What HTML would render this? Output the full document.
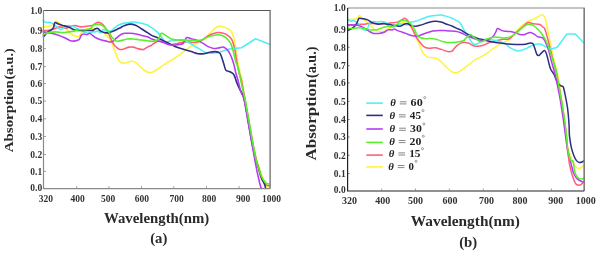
<!DOCTYPE html>
<html><head><meta charset="utf-8"><style>
html,body{margin:0;padding:0;background:#fff;}
body{width:600px;height:254px;overflow:hidden;}
svg{display:block;filter:blur(0.3px);}
</style></head><body>
<svg width="600" height="254" viewBox="0 0 600 254">
<rect width="600" height="254" fill="#fff"/>
<path d="M43.1 26.9 C44.0 26.8 46.8 26.5 48.5 26.2 C50.2 25.9 52.3 25.6 53.5 24.8 C54.7 24.0 54.9 21.7 55.6 21.2 C56.3 20.7 56.8 21.3 57.7 21.9 C58.7 22.5 60.0 23.7 61.3 24.8 C62.6 25.9 63.9 26.8 65.5 28.3 C67.2 29.8 69.5 32.7 71.2 34.0 C72.9 35.3 74.2 35.8 75.5 36.1 C76.8 36.5 78.1 36.6 79.0 36.1 C79.9 35.6 80.1 34.4 81.1 33.3 C82.1 32.2 83.1 30.2 84.9 29.5 C86.7 28.8 90.0 28.9 91.8 28.8 C93.6 28.7 94.5 28.6 95.9 28.8 C97.3 29.0 98.4 29.3 100.0 30.2 C101.6 31.1 103.9 32.8 105.5 34.3 C107.1 35.8 108.5 37.4 109.7 39.1 C110.9 40.8 111.4 42.3 112.4 44.6 C113.4 46.9 114.5 50.3 115.5 52.8 C116.5 55.3 117.3 58.1 118.4 59.8 C119.5 61.5 120.6 62.5 121.9 63.0 C123.2 63.5 124.5 63.0 126.2 62.7 C127.9 62.4 130.2 61.3 131.8 61.3 C133.5 61.3 134.7 61.8 136.1 62.7 C137.5 63.6 138.9 65.6 140.3 66.9 C141.7 68.2 143.2 69.5 144.6 70.5 C146.0 71.5 147.4 72.4 148.8 72.6 C150.2 72.8 151.4 72.6 153.1 71.9 C154.8 71.2 156.8 69.6 158.8 68.3 C160.8 67.0 162.9 65.5 165.0 64.1 C167.1 62.7 169.3 61.4 171.3 60.1 C173.3 58.9 175.1 57.9 177.0 56.6 C178.9 55.3 180.8 53.7 182.7 52.3 C184.6 50.9 186.5 49.4 188.4 48.1 C190.3 46.8 192.1 45.6 194.0 44.5 C195.9 43.4 197.9 42.8 199.7 41.7 C201.5 40.7 203.2 39.7 205.0 38.2 C206.8 36.7 208.8 34.3 210.7 32.5 C212.6 30.7 214.5 28.4 216.3 27.3 C218.1 26.2 219.7 26.1 221.3 26.2 C222.9 26.3 224.3 27.1 225.9 27.9 C227.5 28.7 229.5 29.3 230.8 30.9 C232.1 32.5 233.0 34.9 233.8 37.7 C234.6 40.5 235.0 43.7 235.7 47.6 C236.3 51.5 237.0 57.3 237.7 61.4 C238.4 65.5 239.1 68.8 239.8 72.0 C240.5 75.2 241.4 76.9 242.1 80.6 C242.8 84.3 243.6 91.2 244.1 94.4 C244.6 97.6 244.3 95.7 245.1 100.0 C245.9 104.3 247.5 113.3 248.7 120.0 C249.9 126.7 251.0 133.7 252.2 140.0 C253.4 146.3 254.7 153.5 255.8 158.0 C256.9 162.5 258.1 164.2 259.0 167.0 C259.9 169.8 260.6 172.5 261.5 175.0 C262.4 177.5 263.5 180.1 264.4 182.0 C265.3 183.9 266.0 185.5 266.9 186.3 C267.8 187.2 269.2 187.0 269.7 187.1" stroke="#fff43c" stroke-width="1.6" fill="none" stroke-linejoin="round" stroke-linecap="round"/>
<path d="M43.1 30.4 C44.0 30.4 46.6 30.6 48.5 30.4 C50.4 30.2 52.3 29.6 54.2 29.0 C56.1 28.4 58.0 27.0 59.9 26.9 C61.8 26.8 63.6 28.4 65.5 28.3 C67.4 28.2 69.5 26.7 71.2 26.2 C72.9 25.7 73.8 25.4 75.5 25.5 C77.2 25.6 79.2 26.8 81.1 26.9 C83.0 27.0 84.9 26.4 86.8 26.2 C88.7 26.0 91.0 26.0 92.5 25.5 C94.0 25.0 94.6 23.9 95.5 23.3 C96.4 22.8 96.8 22.2 97.8 22.2 C98.8 22.2 100.3 22.6 101.4 23.3 C102.5 24.0 103.1 24.8 104.2 26.2 C105.3 27.6 106.7 29.9 107.8 31.9 C108.9 33.9 109.8 36.4 110.6 38.2 C111.4 40.0 112.0 41.2 112.7 42.5 C113.4 43.8 113.7 44.6 114.8 45.7 C115.9 46.8 117.7 48.6 119.1 49.2 C120.5 49.8 121.6 49.6 123.3 49.2 C125.0 48.9 127.3 47.5 129.0 47.1 C130.7 46.8 131.9 46.9 133.3 47.1 C134.7 47.3 135.8 48.1 137.5 48.5 C139.2 48.9 141.5 49.8 143.2 49.6 C144.8 49.4 146.3 47.7 147.4 47.1 C148.5 46.5 148.8 46.6 150.0 46.0 C151.2 45.4 152.9 44.0 154.3 43.2 C155.7 42.4 156.8 41.2 158.5 41.1 C160.2 41.0 162.3 41.9 164.2 42.5 C166.1 43.1 168.0 44.4 169.9 44.6 C171.8 44.8 173.6 44.2 175.5 43.9 C177.4 43.5 179.3 42.9 181.2 42.5 C183.1 42.1 185.0 41.8 186.9 41.8 C188.8 41.8 190.7 42.5 192.6 42.5 C194.5 42.5 196.3 42.4 198.2 41.8 C200.1 41.2 202.3 40.0 203.9 39.0 C205.5 38.0 206.6 36.8 208.0 36.0 C209.4 35.2 210.5 34.6 212.1 34.0 C213.7 33.4 215.9 32.6 217.8 32.5 C219.7 32.4 221.8 32.8 223.4 33.3 C225.1 33.8 226.3 34.3 227.7 35.4 C229.1 36.5 230.6 37.3 231.8 39.7 C233.0 42.1 234.0 46.0 234.8 49.6 C235.6 53.2 236.0 57.7 236.7 61.4 C237.4 65.1 238.1 68.8 238.9 72.0 C239.7 75.2 240.7 76.9 241.5 80.6 C242.3 84.3 243.3 91.2 243.9 94.4 C244.5 97.6 244.2 95.7 245.0 100.0 C245.8 104.3 247.4 113.3 248.6 120.0 C249.8 126.7 250.9 133.6 252.1 140.0 C253.3 146.4 254.9 153.8 256.0 158.5 C257.1 163.2 257.7 165.0 258.5 168.0 C259.3 171.0 259.6 173.8 260.6 176.4 C261.6 179.0 263.3 181.8 264.4 183.3 C265.4 184.8 266.1 184.8 266.9 185.2 C267.7 185.6 269.0 185.8 269.4 185.9" stroke="#ff5f7c" stroke-width="1.6" fill="none" stroke-linejoin="round" stroke-linecap="round"/>
<path d="M43.1 20.5 C43.6 20.9 45.3 22.3 46.4 22.6 C47.5 22.9 48.7 21.9 49.9 22.2 C51.1 22.4 52.2 23.2 53.5 24.1 C54.8 25.0 56.5 26.5 57.7 27.4 C58.9 28.3 59.7 29.5 60.7 29.6 C61.7 29.7 62.7 28.6 63.5 28.0 C64.3 27.4 64.7 26.6 65.5 26.2 C66.3 25.8 67.2 25.5 68.4 25.5 C69.6 25.5 71.2 25.7 72.6 26.2 C74.0 26.7 75.5 27.6 76.9 28.3 C78.3 29.0 79.7 29.7 81.1 30.4 C82.5 31.1 84.1 32.1 85.4 32.6 C86.7 33.1 87.7 33.4 88.9 33.3 C90.1 33.2 91.5 32.1 92.5 31.9 C93.5 31.7 94.1 32.0 95.0 31.9 C95.9 31.8 96.8 30.9 97.8 31.1 C98.8 31.3 99.9 33.2 100.7 33.0 C101.5 32.8 101.9 30.1 102.8 29.7 C103.7 29.3 105.0 30.2 106.3 30.4 C107.6 30.6 109.2 31.6 110.6 31.1 C112.0 30.6 113.5 28.7 114.9 27.6 C116.3 26.6 117.4 25.6 119.1 24.8 C120.8 24.1 122.9 23.5 124.8 23.1 C126.7 22.7 128.6 22.4 130.5 22.2 C132.4 22.0 134.2 22.0 136.1 22.2 C138.0 22.4 139.9 22.8 141.8 23.3 C143.7 23.8 146.1 24.4 147.5 25.0 C148.9 25.6 149.1 26.3 150.0 26.9 C150.9 27.4 151.6 27.5 152.8 28.3 C154.0 29.1 155.7 30.5 157.1 31.9 C158.5 33.3 159.9 35.1 161.3 36.8 C162.7 38.4 164.2 41.1 165.6 41.8 C167.0 42.5 168.2 41.4 169.9 41.1 C171.6 40.8 173.6 40.3 175.5 40.1 C177.4 39.9 179.5 39.5 181.2 39.7 C182.9 39.9 183.8 40.4 185.5 41.1 C187.2 41.8 189.4 43.0 191.1 43.9 C192.8 44.8 194.2 46.1 195.4 46.8 C196.6 47.5 197.1 47.4 198.3 48.1 C199.5 48.8 201.2 50.1 202.6 50.9 C204.0 51.7 204.9 52.6 206.8 53.0 C208.7 53.4 211.5 53.2 213.9 53.0 C216.3 52.8 219.0 52.1 221.0 51.6 C223.0 51.1 224.7 50.4 226.0 50.0 C227.3 49.6 228.5 49.2 229.0 49.0 L229.0 49.0 C231.1 48.8 239.4 47.9 241.5 47.7 L241.5 47.7 C243.8 46.2 253.2 40.3 255.5 38.8 L255.5 38.8 C257.8 39.7 267.2 43.3 269.5 44.2" stroke="#4ff0f4" stroke-width="1.6" fill="none" stroke-linejoin="round" stroke-linecap="round"/>
<path d="M43.5 36.8 C44.1 36.1 45.9 33.7 47.1 32.6 C48.3 31.5 49.5 31.2 50.6 30.4 C51.7 29.6 52.8 28.9 53.5 27.6 C54.2 26.3 54.1 23.2 54.9 22.6 C55.7 22.0 57.1 23.6 58.4 24.1 C59.7 24.6 61.4 25.1 62.7 25.5 C64.0 25.9 65.0 25.8 66.2 26.2 C67.4 26.6 68.5 27.0 69.8 27.6 C71.1 28.2 72.6 29.2 74.0 29.7 C75.4 30.2 76.9 30.3 78.3 30.4 C79.7 30.5 80.9 30.4 82.6 30.4 C84.2 30.4 86.5 30.4 88.2 30.4 C89.9 30.4 91.4 30.6 92.5 30.4 C93.6 30.2 94.2 29.4 95.0 29.0 C95.8 28.6 96.5 28.3 97.1 28.3 C97.7 28.3 97.9 28.5 98.5 29.0 C99.1 29.5 99.6 30.5 100.7 31.1 C101.8 31.7 103.5 32.4 104.9 32.6 C106.3 32.9 107.8 32.9 109.2 32.6 C110.6 32.4 111.8 31.8 113.4 31.1 C115.1 30.4 117.2 29.2 119.1 28.3 C121.0 27.4 122.9 26.2 124.8 25.5 C126.7 24.8 128.6 24.1 130.5 24.1 C132.4 24.1 134.2 24.7 136.1 25.5 C138.0 26.3 139.9 27.8 141.8 29.0 C143.7 30.2 145.8 31.5 147.5 32.6 C149.2 33.7 150.4 34.7 151.7 35.4 C152.9 36.1 153.9 36.3 155.0 36.8 C156.1 37.3 157.0 37.5 158.5 38.2 C160.0 38.9 162.3 40.2 164.2 41.1 C166.1 42.0 167.8 42.9 169.9 43.9 C172.0 44.9 174.6 46.4 177.0 47.3 C179.4 48.2 181.7 48.8 184.1 49.5 C186.5 50.2 188.8 50.9 191.2 51.6 C193.6 52.3 196.2 53.4 198.3 53.7 C200.4 54.1 202.1 53.9 204.0 53.7 C205.9 53.5 207.7 52.6 209.6 52.3 C211.5 51.9 213.6 51.5 215.3 51.6 C217.0 51.7 218.5 52.0 219.6 53.0 C220.7 54.0 221.0 55.4 221.7 57.3 C222.4 59.2 223.2 62.1 223.9 64.3 C224.6 66.5 224.9 69.0 225.9 70.2 C226.9 71.4 228.6 71.0 229.9 71.7 C231.2 72.5 232.8 72.9 233.9 74.7 C235.1 76.5 235.8 80.1 236.8 82.6 C237.8 85.0 238.8 87.4 239.8 89.4 C240.8 91.4 241.9 92.6 242.7 94.4 C243.5 96.2 243.5 95.7 244.4 100.0 C245.3 104.3 246.8 113.3 248.0 120.0 C249.2 126.7 250.3 133.7 251.5 140.0 C252.7 146.3 254.2 153.8 255.2 158.0 C256.2 162.2 256.7 162.7 257.5 165.0 C258.3 167.3 259.1 169.7 259.8 172.0 C260.5 174.3 261.1 176.9 261.9 178.9 C262.7 180.9 263.8 182.4 264.4 184.0 C265.0 185.6 265.5 187.7 265.7 188.4" stroke="#2e2e82" stroke-width="1.6" fill="none" stroke-linejoin="round" stroke-linecap="round"/>
<path d="M43.1 31.9 C43.8 32.0 45.7 32.4 47.1 32.6 C48.5 32.8 49.6 32.9 51.3 33.3 C52.9 33.6 54.9 34.0 57.0 34.7 C59.1 35.4 62.0 36.5 64.1 37.5 C66.2 38.5 68.1 39.8 69.8 40.4 C71.5 41.0 72.5 41.2 74.0 41.1 C75.5 41.0 77.8 40.7 79.0 39.7 C80.2 38.8 80.3 36.4 81.1 35.4 C81.9 34.4 83.0 34.1 84.0 34.0 C85.0 33.9 85.9 34.8 86.8 34.7 C87.7 34.6 88.6 33.2 89.6 33.3 C90.5 33.4 91.5 34.7 92.5 35.4 C93.5 36.1 93.9 36.8 95.3 37.5 C96.7 38.2 98.9 39.1 100.7 39.7 C102.5 40.3 104.4 40.8 106.3 41.1 C108.2 41.5 110.3 42.3 112.0 41.8 C113.7 41.3 114.9 39.4 116.3 38.2 C117.7 37.0 119.1 35.5 120.5 34.7 C121.9 33.9 123.1 33.5 124.8 33.3 C126.5 33.1 128.6 33.2 130.5 33.3 C132.4 33.4 134.2 33.6 136.1 34.0 C138.0 34.4 139.9 34.9 141.8 35.4 C143.7 35.9 145.8 36.2 147.5 36.8 C149.2 37.4 150.3 38.4 151.7 39.0 C153.1 39.6 154.1 39.9 155.7 40.4 C157.3 40.9 159.4 41.2 161.3 41.8 C163.2 42.4 165.1 43.3 167.0 43.9 C168.9 44.5 170.8 45.2 172.7 45.3 C174.6 45.4 176.7 44.9 178.4 44.6 C180.1 44.4 181.7 44.4 182.7 43.8 C183.7 43.2 183.8 42.0 184.5 41.0 C185.2 40.0 185.8 37.9 186.9 37.5 C188.0 37.1 189.5 38.3 191.2 38.8 C192.9 39.3 195.0 39.6 196.9 40.3 C198.8 41.0 200.7 42.0 202.6 43.1 C204.5 44.2 206.3 45.7 208.2 46.6 C210.1 47.5 211.9 48.3 213.9 48.5 C215.9 48.7 218.3 47.8 220.0 47.6 C221.7 47.4 222.6 46.7 223.9 47.2 C225.2 47.7 226.8 49.2 227.9 50.5 C229.0 51.8 229.7 53.4 230.5 55.0 C231.3 56.6 231.9 58.2 232.5 60.0 C233.1 61.8 233.8 64.0 234.3 66.0 C234.8 68.0 235.0 69.7 235.6 72.0 C236.2 74.3 237.0 76.7 237.9 80.0 C238.8 83.3 239.9 88.7 241.0 92.0 C242.1 95.3 243.1 95.3 244.2 100.0 C245.3 104.7 246.6 113.3 247.8 120.0 C249.0 126.7 250.1 133.3 251.3 140.0 C252.5 146.7 254.0 155.0 254.9 160.0 C255.8 165.0 256.2 166.9 256.8 170.1 C257.4 173.2 258.1 176.2 258.7 178.9 C259.3 181.6 260.1 184.9 260.6 186.5 C261.1 188.1 261.4 188.2 261.6 188.5" stroke="#b43cf2" stroke-width="1.6" fill="none" stroke-linejoin="round" stroke-linecap="round"/>
<path d="M43.1 34.7 C44.0 34.4 46.4 33.1 48.5 32.6 C50.6 32.1 53.2 31.9 55.6 31.9 C58.0 31.9 60.6 32.6 62.7 32.6 C64.8 32.6 66.5 32.1 68.4 31.9 C70.3 31.6 72.1 31.5 74.0 31.1 C75.9 30.7 77.8 29.9 79.7 29.7 C81.6 29.5 83.5 29.9 85.4 29.7 C87.3 29.5 89.8 29.1 91.1 28.3 C92.4 27.5 92.3 25.5 93.2 24.8 C94.1 24.1 95.5 24.1 96.7 24.1 C98.0 24.1 99.3 24.2 100.7 24.8 C102.1 25.4 103.5 26.3 104.9 27.6 C106.3 28.9 107.9 30.8 109.2 32.6 C110.5 34.4 111.5 36.8 112.7 38.2 C113.9 39.6 114.8 40.7 116.3 41.1 C117.8 41.5 120.1 40.8 122.0 40.4 C123.9 40.0 125.7 39.2 127.6 39.0 C129.5 38.8 131.4 38.9 133.3 39.0 C135.2 39.1 137.1 39.5 139.0 39.7 C140.9 39.9 142.7 40.2 144.6 40.4 C146.5 40.6 148.7 41.0 150.3 41.1 C151.9 41.2 152.9 41.5 154.3 41.1 C155.7 40.8 157.3 40.3 158.5 39.0 C159.7 37.7 160.1 33.9 161.3 33.3 C162.5 32.7 163.9 34.4 165.6 35.4 C167.3 36.4 169.2 38.2 171.3 39.0 C173.4 39.8 176.0 39.9 178.4 40.1 C180.8 40.3 183.1 40.1 185.5 40.1 C187.9 40.1 190.2 40.4 192.6 40.4 C194.9 40.4 197.5 40.8 199.6 40.4 C201.7 40.0 203.5 38.9 205.3 38.2 C207.2 37.5 208.6 36.7 210.7 36.1 C212.8 35.5 215.9 34.8 217.8 34.7 C219.7 34.6 220.7 34.9 222.0 35.4 C223.3 35.9 224.4 36.3 225.9 37.7 C227.4 39.1 229.5 41.1 230.8 43.7 C232.1 46.3 233.0 50.5 233.8 53.5 C234.6 56.5 235.1 59.8 235.8 62.0 C236.5 64.2 237.0 63.7 237.8 66.8 C238.6 69.9 239.8 76.0 240.8 80.6 C241.8 85.2 243.2 91.2 243.9 94.4 C244.6 97.6 244.4 95.7 245.2 100.0 C246.0 104.3 247.6 113.3 248.8 120.0 C250.0 126.7 251.1 133.3 252.3 140.0 C253.5 146.7 255.2 155.6 256.2 160.0 C257.2 164.4 257.4 164.0 258.1 166.3 C258.8 168.6 259.8 171.7 260.6 173.9 C261.4 176.1 262.2 177.9 263.1 179.5 C264.1 181.1 265.2 182.6 266.3 183.3 C267.4 184.1 269.1 183.9 269.7 184.0" stroke="#58f02a" stroke-width="1.6" fill="none" stroke-linejoin="round" stroke-linecap="round"/>
<path d="M43.5 10.5 H270.2 V188.6" stroke="#555" stroke-width="1.2" fill="none"/>
<path d="M43.5 10.5 V188.6 H270.2" stroke="#8a8a8a" stroke-width="1.2" fill="none"/>
<path d="M270.2 10.5 V188.6" stroke="#999" stroke-width="1.2" fill="none"/>
<text x="42.2" y="14.1" font-size="9.5" text-anchor="end" fill="#333" font-family="Liberation Serif" font-weight="bold">1.0</text>
<text x="42.2" y="34.2" font-size="9.5" text-anchor="end" fill="#333" font-family="Liberation Serif" font-weight="bold">0.9</text>
<path d="M43.5 31.0 h2.5" stroke="#888" stroke-width="0.8"/>
<text x="42.2" y="51.8" font-size="9.5" text-anchor="end" fill="#333" font-family="Liberation Serif" font-weight="bold">0.8</text>
<path d="M43.5 48.6 h2.5" stroke="#888" stroke-width="0.8"/>
<text x="42.2" y="69.8" font-size="9.5" text-anchor="end" fill="#333" font-family="Liberation Serif" font-weight="bold">0.7</text>
<path d="M43.5 66.6 h2.5" stroke="#888" stroke-width="0.8"/>
<text x="42.2" y="86.7" font-size="9.5" text-anchor="end" fill="#333" font-family="Liberation Serif" font-weight="bold">0.6</text>
<path d="M43.5 83.5 h2.5" stroke="#888" stroke-width="0.8"/>
<text x="42.2" y="104.3" font-size="9.5" text-anchor="end" fill="#333" font-family="Liberation Serif" font-weight="bold">0.5</text>
<path d="M43.5 101.1 h2.5" stroke="#888" stroke-width="0.8"/>
<text x="42.2" y="122.0" font-size="9.5" text-anchor="end" fill="#333" font-family="Liberation Serif" font-weight="bold">0.4</text>
<path d="M43.5 118.8 h2.5" stroke="#888" stroke-width="0.8"/>
<text x="42.2" y="139.7" font-size="9.5" text-anchor="end" fill="#333" font-family="Liberation Serif" font-weight="bold">0.3</text>
<path d="M43.5 136.5 h2.5" stroke="#888" stroke-width="0.8"/>
<text x="42.2" y="157.7" font-size="9.5" text-anchor="end" fill="#333" font-family="Liberation Serif" font-weight="bold">0.2</text>
<path d="M43.5 154.5 h2.5" stroke="#888" stroke-width="0.8"/>
<text x="42.2" y="174.6" font-size="9.5" text-anchor="end" fill="#333" font-family="Liberation Serif" font-weight="bold">0.1</text>
<path d="M43.5 171.4 h2.5" stroke="#888" stroke-width="0.8"/>
<text x="42.2" y="190.5" font-size="9.5" text-anchor="end" fill="#333" font-family="Liberation Serif" font-weight="bold">0.0</text>
<text x="45.9" y="201.8" font-size="9.5" text-anchor="middle" fill="#333" font-family="Liberation Serif" font-weight="bold">320</text>
<text x="77.5" y="201.8" font-size="9.5" text-anchor="middle" fill="#333" font-family="Liberation Serif" font-weight="bold">400</text>
<path d="M76.7 188.6 v-2.5" stroke="#888" stroke-width="0.8"/>
<text x="108.2" y="201.8" font-size="9.5" text-anchor="middle" fill="#333" font-family="Liberation Serif" font-weight="bold">500</text>
<path d="M108.9 188.6 v-2.5" stroke="#888" stroke-width="0.8"/>
<text x="141.8" y="201.8" font-size="9.5" text-anchor="middle" fill="#333" font-family="Liberation Serif" font-weight="bold">600</text>
<path d="M141.5 188.6 v-2.5" stroke="#888" stroke-width="0.8"/>
<text x="176.6" y="201.8" font-size="9.5" text-anchor="middle" fill="#333" font-family="Liberation Serif" font-weight="bold">700</text>
<path d="M173.8 188.6 v-2.5" stroke="#888" stroke-width="0.8"/>
<text x="209.0" y="201.8" font-size="9.5" text-anchor="middle" fill="#333" font-family="Liberation Serif" font-weight="bold">800</text>
<path d="M206.5 188.6 v-2.5" stroke="#888" stroke-width="0.8"/>
<text x="243.0" y="201.8" font-size="9.5" text-anchor="middle" fill="#333" font-family="Liberation Serif" font-weight="bold">900</text>
<path d="M239.1 188.6 v-2.5" stroke="#888" stroke-width="0.8"/>
<text x="271.6" y="201.8" font-size="9.5" text-anchor="middle" fill="#333" font-family="Liberation Serif" font-weight="bold">1000</text>
<text transform="translate(13.0,152.2) rotate(-90)" font-size="13.2" fill="#2a2a2a" textLength="72" lengthAdjust="spacingAndGlyphs" font-family="Liberation Serif" font-weight="bold">Absorption</text>
<text transform="translate(13.0,79.6) rotate(-90)" font-size="13.2" fill="#2a2a2a" textLength="31.2" lengthAdjust="spacingAndGlyphs" font-family="Liberation Serif" font-weight="bold">(a.u.)</text>
<text x="104" y="223" font-size="14" fill="#2a2a2a" textLength="105.2" lengthAdjust="spacingAndGlyphs" font-family="Liberation Serif" font-weight="bold">Wavelength(nm)</text>
<text x="150.2" y="243.1" font-size="14.2" fill="#2a2a2a" textLength="17.2" lengthAdjust="spacingAndGlyphs" font-family="Liberation Serif" font-weight="bold">(a)</text>
<path d="M347.8 19.9 C348.8 19.8 351.9 19.4 353.5 19.2 C355.1 19.0 356.2 19.1 357.1 18.5 C358.1 17.9 358.6 16.1 359.2 15.7 C359.8 15.3 359.9 15.8 360.6 16.4 C361.3 17.0 362.2 18.1 363.4 19.2 C364.6 20.3 366.3 21.5 367.7 22.8 C369.1 24.1 370.8 25.8 372.0 27.0 C373.2 28.2 373.6 29.2 374.8 29.9 C376.0 30.6 377.6 30.9 379.0 31.3 C380.4 31.7 382.1 32.2 383.3 32.0 C384.5 31.8 384.9 30.6 386.1 29.9 C387.3 29.2 389.0 28.3 390.4 27.7 C391.8 27.1 393.2 26.9 394.6 26.3 C396.0 25.7 397.7 24.8 398.9 24.2 C400.1 23.6 400.9 22.6 402.0 22.5 C403.1 22.4 404.1 22.8 405.7 23.5 C407.2 24.2 409.9 25.5 411.3 27.0 C412.7 28.5 413.4 30.8 414.2 32.7 C415.0 34.6 415.5 36.5 416.3 38.4 C417.1 40.3 418.2 41.7 419.2 43.9 C420.2 46.1 421.0 49.6 422.3 51.8 C423.6 53.9 425.2 55.8 427.1 56.8 C429.0 57.8 431.6 57.4 433.4 57.8 C435.2 58.2 436.5 58.3 438.1 59.3 C439.7 60.3 441.3 62.1 442.9 63.6 C444.5 65.1 446.0 66.9 447.6 68.3 C449.2 69.7 450.7 71.3 452.3 72.0 C453.9 72.7 455.5 72.9 457.1 72.6 C458.7 72.2 460.0 71.1 461.8 69.9 C463.6 68.7 465.9 66.9 468.1 65.2 C470.3 63.5 472.8 61.3 475.0 59.9 C477.2 58.5 479.2 58.0 481.3 56.8 C483.4 55.6 485.5 54.2 487.6 52.8 C489.7 51.3 491.8 49.5 493.9 48.1 C496.0 46.7 498.1 45.4 500.2 44.2 C502.3 43.0 504.9 41.9 506.5 41.0 C508.1 40.1 508.3 40.2 510.0 38.6 C511.7 37.0 514.4 33.5 516.6 31.1 C518.8 28.8 521.3 26.1 523.2 24.5 C525.1 22.9 526.3 22.2 528.2 21.2 C530.1 20.2 532.6 19.8 534.8 18.7 C537.0 17.6 539.8 15.2 541.4 14.9 C543.0 14.6 543.8 15.4 544.7 17.1 C545.6 18.8 546.0 22.1 546.7 25.0 C547.4 27.9 548.0 31.5 548.7 34.8 C549.4 38.1 549.9 40.8 550.7 44.7 C551.5 48.7 552.6 54.2 553.6 58.5 C554.6 62.8 555.9 66.4 556.8 70.3 C557.7 74.2 558.4 77.5 559.2 82.0 C560.0 86.5 560.7 92.3 561.4 97.0 C562.1 101.7 562.7 106.2 563.2 110.0 C563.7 113.8 564.1 115.8 564.6 120.0 C565.1 124.2 565.9 130.3 566.4 135.0 C566.9 139.7 567.1 144.6 567.8 148.0 C568.5 151.4 569.5 152.9 570.4 155.3 C571.3 157.7 572.1 160.5 573.0 162.4 C573.9 164.3 574.7 165.8 575.7 166.8 C576.7 167.8 578.2 168.6 579.2 168.6 C580.2 168.6 581.1 167.4 581.9 166.8 C582.7 166.2 583.6 165.3 584.0 165.0" stroke="#fff43c" stroke-width="1.5" fill="none" stroke-linejoin="round" stroke-linecap="round"/>
<path d="M347.8 25.6 C348.8 25.5 351.6 25.1 353.5 24.9 C355.4 24.7 357.3 24.3 359.2 24.2 C361.1 24.1 363.2 24.3 364.9 24.2 C366.5 24.1 367.5 23.6 369.1 23.5 C370.8 23.4 372.9 23.4 374.8 23.5 C376.7 23.6 378.6 24.2 380.5 24.2 C382.4 24.2 384.2 23.7 386.1 23.5 C388.0 23.3 389.9 23.0 391.8 22.8 C393.7 22.6 395.9 22.6 397.5 22.1 C399.1 21.6 400.6 20.5 401.7 19.9 C402.8 19.3 403.4 18.7 404.0 18.5 C404.6 18.3 404.9 18.1 405.5 18.5 C406.1 18.9 406.9 19.4 407.8 20.6 C408.7 21.8 409.7 23.8 410.6 25.6 C411.6 27.4 412.6 29.4 413.5 31.3 C414.4 33.2 415.2 35.2 416.3 37.0 C417.4 38.8 418.7 40.7 420.0 42.3 C421.3 43.9 422.4 45.7 423.9 46.7 C425.3 47.7 426.8 48.1 428.7 48.3 C430.6 48.5 432.9 47.6 435.0 47.8 C437.1 48.0 439.2 48.8 441.3 49.4 C443.4 50.0 445.8 51.2 447.6 51.5 C449.4 51.8 451.3 51.4 452.3 51.0 C453.3 50.6 452.9 50.0 453.8 49.0 C454.7 48.0 456.4 46.2 457.6 45.2 C458.9 44.2 460.1 43.4 461.3 42.9 C462.6 42.4 463.8 42.3 465.1 42.4 C466.4 42.5 467.5 42.8 468.9 43.3 C470.3 43.8 472.0 45.2 473.6 45.7 C475.2 46.2 476.8 46.3 478.4 46.2 C480.0 46.1 481.5 45.7 483.1 45.2 C484.7 44.7 486.4 43.8 487.8 43.3 C489.2 42.8 490.4 42.3 491.6 41.9 C492.8 41.5 493.3 41.4 495.0 41.0 C496.7 40.6 499.4 39.8 501.8 39.4 C504.2 39.0 507.1 39.9 509.6 38.7 C512.1 37.5 514.3 34.1 516.6 32.0 C518.9 29.9 521.3 27.8 523.2 26.2 C525.1 24.6 526.6 22.9 528.2 22.5 C529.9 22.1 531.2 23.4 533.1 23.7 C535.0 24.0 538.2 23.9 539.8 24.5 C541.4 25.1 542.0 26.3 542.8 27.0 C543.6 27.7 544.0 26.9 544.8 28.9 C545.6 30.9 546.7 35.2 547.7 38.8 C548.7 42.4 549.7 46.7 550.7 50.6 C551.7 54.5 552.6 58.3 553.6 62.4 C554.6 66.5 555.9 70.7 556.8 75.0 C557.7 79.3 558.5 83.8 559.2 88.0 C560.0 92.2 560.4 94.7 561.3 100.0 C562.1 105.3 563.5 114.2 564.3 120.0 C565.1 125.8 565.8 130.0 566.3 135.0 C566.8 140.0 567.0 146.2 567.4 150.0 C567.8 153.8 568.2 155.6 568.6 158.0 C569.0 160.4 568.9 161.4 569.5 164.2 C570.1 167.0 571.2 171.9 572.1 174.8 C573.0 177.8 574.1 180.3 574.8 181.9 C575.5 183.5 575.6 184.0 576.5 184.5 C577.4 185.0 579.2 185.2 580.1 185.0 C581.0 184.8 581.2 184.2 581.9 183.6 C582.5 183.0 583.6 181.8 584.0 181.5" stroke="#ff5f7c" stroke-width="1.5" fill="none" stroke-linejoin="round" stroke-linecap="round"/>
<path d="M347.8 19.2 C348.3 19.6 349.8 21.1 350.7 21.3 C351.6 21.5 352.6 20.5 353.5 20.6 C354.4 20.7 355.4 21.4 356.3 22.1 C357.2 22.8 358.2 23.8 359.2 24.9 C360.2 26.0 361.4 27.9 362.3 28.8 C363.2 29.7 363.8 29.9 364.5 30.1 C365.2 30.3 366.1 30.8 366.8 30.1 C367.5 29.4 368.0 27.2 368.5 26.0 C369.0 24.8 369.1 23.4 370.0 22.6 C370.9 21.8 372.4 21.5 373.6 21.4 C374.9 21.3 376.2 21.9 377.5 21.9 C378.8 21.9 380.2 21.3 381.5 21.4 C382.8 21.4 384.1 21.4 385.4 22.2 C386.6 23.0 387.7 25.5 389.0 26.3 C390.3 27.1 391.8 27.2 393.2 27.0 C394.6 26.8 396.2 25.4 397.5 24.9 C398.8 24.4 399.9 24.1 401.0 24.0 C402.1 23.9 403.3 24.1 404.3 24.2 C405.3 24.3 406.1 25.2 407.1 24.9 C408.2 24.5 409.2 22.7 410.6 22.1 C412.0 21.5 413.8 21.8 415.6 21.3 C417.4 20.8 419.2 20.0 421.3 19.2 C423.4 18.4 426.0 17.0 428.4 16.4 C430.8 15.8 433.4 15.6 435.5 15.4 C437.6 15.2 439.2 14.8 441.1 15.0 C443.0 15.2 444.9 15.8 446.8 16.4 C448.7 17.0 450.9 17.8 452.5 18.5 C454.1 19.2 455.4 19.9 456.7 20.6 C457.9 21.3 458.9 21.4 460.0 22.8 C461.1 24.2 462.3 27.1 463.5 29.1 C464.7 31.1 465.9 32.9 467.1 34.8 C468.3 36.7 469.6 39.0 470.6 40.5 C471.7 42.0 472.3 43.4 473.4 44.0 C474.5 44.6 475.8 44.4 477.0 44.0 C478.2 43.6 479.3 42.7 480.5 41.9 C481.7 41.1 482.7 39.8 484.4 39.4 C486.1 39.0 488.3 39.5 490.7 39.8 C493.1 40.1 496.2 40.7 498.6 41.3 C501.0 41.9 503.1 42.4 504.9 43.4 C506.7 44.4 507.8 46.1 509.6 47.3 C511.4 48.5 514.0 50.0 515.9 50.5 C517.8 51.0 518.9 50.9 520.7 50.5 C522.6 50.1 524.9 49.0 527.0 48.1 C529.1 47.2 531.2 45.7 533.3 45.0 C535.4 44.3 537.5 43.7 539.6 44.0 C541.7 44.3 544.0 45.9 545.7 46.7 C547.4 47.5 548.5 48.3 549.7 48.6 C550.9 48.9 551.7 48.8 553.0 48.5 C554.3 48.2 556.8 47.2 557.5 47.0 L557.5 47.0 C559.0 44.8 565.2 36.2 566.8 34.0 L566.8 34.0 C568.2 34.0 573.9 34.0 575.3 34.0 L575.3 34.0 C576.7 35.5 582.2 41.2 583.6 42.7" stroke="#4ff0f4" stroke-width="1.5" fill="none" stroke-linejoin="round" stroke-linecap="round"/>
<path d="M347.8 30.6 C348.5 30.2 350.7 29.5 352.1 28.4 C353.5 27.3 355.2 25.7 356.3 24.2 C357.4 22.7 358.0 20.2 358.5 19.2 C359.0 18.2 358.7 18.3 359.5 18.2 C360.3 18.1 362.0 18.5 363.4 18.8 C364.8 19.1 366.4 19.3 367.7 19.9 C369.0 20.4 370.0 21.5 371.2 22.1 C372.4 22.7 373.5 23.1 374.8 23.5 C376.1 23.9 377.6 24.2 379.0 24.2 C380.4 24.2 381.9 23.5 383.3 23.5 C384.7 23.5 386.2 24.0 387.6 24.2 C389.0 24.4 390.4 24.7 391.8 24.9 C393.2 25.1 394.7 25.4 396.1 25.6 C397.5 25.8 398.9 26.5 400.3 26.3 C401.7 26.1 403.2 24.7 404.3 24.2 C405.4 23.7 405.9 23.3 407.1 23.5 C408.3 23.7 409.9 25.1 411.3 25.6 C412.7 26.1 413.9 26.4 415.6 26.3 C417.3 26.2 419.2 25.5 421.3 24.9 C423.4 24.3 426.0 23.1 428.4 22.5 C430.8 21.9 433.4 21.4 435.5 21.3 C437.6 21.2 439.2 21.6 441.1 22.1 C443.0 22.6 444.9 23.5 446.8 24.2 C448.7 24.9 450.9 25.6 452.5 26.3 C454.1 27.0 455.3 27.8 456.7 28.4 C458.1 29.0 459.1 29.1 460.7 29.9 C462.3 30.7 464.4 32.3 466.3 33.4 C468.2 34.5 470.1 35.4 472.0 36.2 C473.9 37.0 475.8 37.8 477.7 38.4 C479.6 39.0 481.5 39.3 483.4 39.8 C485.3 40.3 487.0 40.7 489.0 41.2 C491.0 41.7 493.1 42.2 495.5 42.6 C497.9 43.0 500.7 43.1 503.3 43.4 C505.9 43.7 508.6 44.0 511.2 44.2 C513.8 44.4 516.7 44.5 519.1 44.5 C521.5 44.5 523.6 44.5 525.4 44.2 C527.2 43.9 528.8 43.0 530.1 42.9 C531.4 42.8 532.2 42.8 533.0 43.7 C533.8 44.7 534.2 46.8 534.9 48.6 C535.5 50.4 536.2 53.4 536.9 54.5 C537.6 55.6 538.1 55.8 538.9 55.5 C539.7 55.2 540.8 53.4 541.8 52.6 C542.8 51.8 544.0 50.3 544.8 50.6 C545.6 50.9 546.1 52.5 546.7 54.5 C547.4 56.5 548.0 59.9 548.7 62.4 C549.4 64.9 549.8 67.3 550.7 69.3 C551.6 71.3 552.8 72.0 553.9 74.2 C555.0 76.4 556.2 80.5 557.4 82.4 C558.6 84.4 559.9 85.1 560.9 85.9 C561.9 86.7 562.5 85.1 563.3 87.1 C564.1 89.1 565.0 94.3 565.7 97.7 C566.4 101.1 567.0 104.3 567.4 107.2 C567.8 110.1 568.0 111.9 568.3 115.0 C568.6 118.1 568.9 122.1 569.1 125.6 C569.3 129.1 569.1 132.6 569.5 136.2 C569.9 139.8 570.5 143.7 571.2 146.9 C571.9 150.2 573.0 153.4 573.9 155.7 C574.8 158.0 575.6 159.5 576.5 160.6 C577.4 161.7 578.3 162.2 579.2 162.4 C580.1 162.6 581.1 162.3 581.9 162.0 C582.7 161.7 583.6 160.8 584.0 160.6" stroke="#2e2e82" stroke-width="1.5" fill="none" stroke-linejoin="round" stroke-linecap="round"/>
<path d="M347.8 24.9 C348.8 24.9 351.6 24.8 353.5 24.9 C355.4 25.0 357.3 25.0 359.2 25.6 C361.1 26.2 363.2 27.4 364.9 28.4 C366.5 29.3 367.7 30.5 369.1 31.3 C370.5 32.1 371.8 33.0 373.4 33.4 C375.0 33.8 377.1 33.6 379.0 33.4 C380.9 33.2 383.3 32.6 384.7 32.0 C386.1 31.4 386.4 30.2 387.6 29.9 C388.8 29.5 390.6 30.0 391.8 29.9 C393.0 29.8 393.7 29.0 394.6 29.1 C395.6 29.2 396.3 30.1 397.5 30.6 C398.7 31.1 400.3 31.5 401.7 32.0 C403.1 32.5 404.1 32.8 405.7 33.4 C407.3 34.0 409.4 35.0 411.3 35.5 C413.2 36.0 415.3 36.3 417.0 36.2 C418.7 36.1 419.6 35.4 421.3 34.8 C423.0 34.2 425.1 33.3 427.0 32.7 C428.9 32.1 430.7 31.4 432.6 31.0 C434.5 30.6 436.4 30.7 438.3 30.6 C440.2 30.5 442.1 30.5 444.0 30.6 C445.9 30.7 447.7 30.9 449.6 31.0 C451.5 31.1 453.5 31.0 455.3 31.3 C457.1 31.6 458.9 32.0 460.7 32.7 C462.5 33.4 464.4 34.7 466.3 35.5 C468.2 36.3 470.1 37.0 472.0 37.7 C473.9 38.4 475.8 39.3 477.7 39.8 C479.6 40.3 481.5 40.6 483.4 40.5 C485.3 40.4 487.4 39.8 489.0 39.1 C490.6 38.4 492.1 37.5 493.3 36.2 C494.5 34.9 495.4 32.6 496.1 31.3 C496.8 30.0 496.7 28.5 497.6 28.4 C498.6 28.3 500.4 30.1 501.8 30.6 C503.2 31.1 504.7 31.1 506.1 31.3 C507.5 31.5 508.8 31.4 510.3 31.6 C511.8 31.8 513.4 32.1 515.0 32.6 C516.6 33.1 518.2 34.1 519.9 34.4 C521.5 34.7 523.2 34.7 524.9 34.4 C526.5 34.1 528.3 32.6 529.8 32.5 C531.3 32.4 532.5 33.2 533.9 33.9 C535.2 34.6 536.4 36.1 537.9 36.8 C539.4 37.4 541.5 36.8 542.8 37.8 C544.1 38.8 544.7 40.6 545.7 42.7 C546.7 44.8 547.7 47.3 548.7 50.6 C549.7 53.9 550.6 58.3 551.7 62.4 C552.8 66.5 554.2 70.7 555.2 75.0 C556.2 79.3 557.1 83.8 558.0 88.0 C558.9 92.2 559.4 94.7 560.3 100.0 C561.2 105.3 562.5 114.2 563.4 120.0 C564.2 125.8 564.8 130.8 565.4 135.0 C566.0 139.2 566.3 142.2 566.8 145.0 C567.3 147.8 567.8 150.0 568.2 152.0 C568.7 154.0 569.0 154.9 569.5 157.0 C570.0 159.1 570.6 162.0 571.3 164.6 C571.9 167.2 572.5 170.4 573.4 172.6 C574.2 174.8 575.2 176.5 576.4 177.9 C577.6 179.3 579.2 180.3 580.5 181.0 C581.8 181.7 583.4 181.8 584.0 182.0" stroke="#b43cf2" stroke-width="1.5" fill="none" stroke-linejoin="round" stroke-linecap="round"/>
<path d="M347.8 28.4 C348.8 28.4 351.6 28.5 353.5 28.4 C355.4 28.3 357.3 27.7 359.2 27.7 C361.1 27.7 363.0 28.0 364.9 28.4 C366.8 28.8 368.6 29.6 370.5 29.9 C372.4 30.1 374.5 30.1 376.2 29.9 C377.9 29.6 379.1 28.9 380.5 28.4 C381.9 27.9 383.3 27.4 384.7 27.0 C386.1 26.6 387.6 26.4 389.0 26.3 C390.4 26.2 391.8 26.7 393.2 26.3 C394.6 25.9 396.3 25.1 397.5 24.2 C398.7 23.2 399.1 21.2 400.3 20.6 C401.6 20.0 403.4 20.2 405.0 20.6 C406.6 21.0 408.5 21.6 409.9 22.8 C411.3 24.0 412.4 25.9 413.5 27.7 C414.6 29.5 415.4 31.8 416.3 33.4 C417.2 34.9 417.6 36.1 419.1 37.0 C420.6 37.9 423.4 38.6 425.5 38.8 C427.6 39.0 429.7 38.2 431.8 38.4 C433.9 38.6 436.0 39.3 438.1 39.9 C440.2 40.5 442.3 41.5 444.4 42.0 C446.5 42.5 448.6 42.6 450.7 42.6 C452.8 42.6 455.0 42.3 457.1 42.0 C459.2 41.7 461.9 41.4 463.4 40.7 C464.9 40.0 465.1 38.7 466.3 37.7 C467.5 36.7 469.7 35.2 470.6 34.8 C471.6 34.4 471.1 34.8 472.0 35.5 C472.9 36.2 474.8 38.1 476.3 39.1 C477.9 40.1 479.4 41.9 481.3 41.8 C483.2 41.7 485.2 39.5 487.6 38.7 C490.0 37.9 492.9 37.2 495.5 37.1 C498.1 37.0 500.9 37.9 503.3 37.9 C505.7 37.9 507.4 38.0 509.6 37.1 C511.8 36.2 514.3 34.5 516.6 32.8 C518.9 31.1 521.3 28.4 523.2 27.0 C525.1 25.6 526.6 24.5 528.2 24.2 C529.9 23.9 531.5 24.5 533.1 25.4 C534.8 26.3 536.3 27.6 538.1 29.5 C539.9 31.4 542.2 34.3 543.8 36.8 C545.4 39.3 546.4 41.4 547.7 44.7 C549.0 48.0 550.3 52.2 551.7 56.5 C553.1 60.8 554.8 65.4 556.0 70.3 C557.2 75.2 558.0 81.0 558.9 86.0 C559.8 91.0 560.4 94.3 561.4 100.0 C562.4 105.7 563.8 114.2 564.6 120.0 C565.4 125.8 565.9 130.3 566.4 135.0 C566.9 139.7 567.1 144.5 567.6 148.0 C568.1 151.5 568.7 154.0 569.2 156.0 C569.7 158.0 570.1 159.0 570.6 159.8 C571.1 160.6 572.0 160.3 572.5 160.8 C573.0 161.3 573.2 161.4 573.5 163.0 C573.8 164.6 573.9 168.4 574.4 170.5 C574.9 172.6 575.6 174.4 576.4 175.8 C577.2 177.2 578.4 178.2 579.4 178.7 C580.4 179.2 581.6 179.1 582.4 178.9 C583.2 178.8 583.7 178.0 584.0 177.8" stroke="#58f02a" stroke-width="1.5" fill="none" stroke-linejoin="round" stroke-linecap="round"/>
<path d="M347.6 8.0 H584.2 V191.0" stroke="#8a8a8a" stroke-width="1.2" fill="none"/>
<path d="M584.2 8.0 V191.0" stroke="#777" stroke-width="1.2" fill="none"/>
<path d="M347.6 8.0 V191.0 H584.2" stroke="#222" stroke-width="1.2" fill="none"/>
<text x="345.7" y="11.4" font-size="9.5" text-anchor="end" fill="#333" font-family="Liberation Serif" font-weight="bold">1.0</text>
<text x="345.7" y="32.5" font-size="9.5" text-anchor="end" fill="#333" font-family="Liberation Serif" font-weight="bold">0.9</text>
<path d="M347.6 29.3 h2" stroke="#555" stroke-width="0.8"/>
<text x="345.7" y="50.5" font-size="9.5" text-anchor="end" fill="#333" font-family="Liberation Serif" font-weight="bold">0.8</text>
<path d="M347.6 47.3 h2" stroke="#555" stroke-width="0.8"/>
<text x="345.7" y="68.8" font-size="9.5" text-anchor="end" fill="#333" font-family="Liberation Serif" font-weight="bold">0.7</text>
<path d="M347.6 65.6 h2" stroke="#555" stroke-width="0.8"/>
<text x="345.7" y="86.1" font-size="9.5" text-anchor="end" fill="#333" font-family="Liberation Serif" font-weight="bold">0.6</text>
<path d="M347.6 82.9 h2" stroke="#555" stroke-width="0.8"/>
<text x="345.7" y="104.6" font-size="9.5" text-anchor="end" fill="#333" font-family="Liberation Serif" font-weight="bold">0.5</text>
<path d="M347.6 101.4 h2" stroke="#555" stroke-width="0.8"/>
<text x="345.7" y="122.7" font-size="9.5" text-anchor="end" fill="#333" font-family="Liberation Serif" font-weight="bold">0.4</text>
<path d="M347.6 119.5 h2" stroke="#555" stroke-width="0.8"/>
<text x="345.7" y="140.2" font-size="9.5" text-anchor="end" fill="#333" font-family="Liberation Serif" font-weight="bold">0.3</text>
<path d="M347.6 137.0 h2" stroke="#555" stroke-width="0.8"/>
<text x="345.7" y="158.5" font-size="9.5" text-anchor="end" fill="#333" font-family="Liberation Serif" font-weight="bold">0.2</text>
<path d="M347.6 155.3 h2" stroke="#555" stroke-width="0.8"/>
<text x="345.7" y="176.7" font-size="9.5" text-anchor="end" fill="#333" font-family="Liberation Serif" font-weight="bold">0.1</text>
<path d="M347.6 173.5 h2" stroke="#555" stroke-width="0.8"/>
<text x="345.7" y="193.4" font-size="9.5" text-anchor="end" fill="#333" font-family="Liberation Serif" font-weight="bold">0.0</text>
<text x="349.6" y="204.4" font-size="10" text-anchor="middle" fill="#333" font-family="Liberation Serif" font-weight="bold">320</text>
<text x="382.7" y="204.4" font-size="10" text-anchor="middle" fill="#333" font-family="Liberation Serif" font-weight="bold">400</text>
<path d="M381.7 191.0 v-2.5" stroke="#888" stroke-width="0.8"/>
<text x="415.4" y="204.4" font-size="10" text-anchor="middle" fill="#333" font-family="Liberation Serif" font-weight="bold">500</text>
<path d="M415.5 191.0 v-2.5" stroke="#888" stroke-width="0.8"/>
<text x="450.0" y="204.4" font-size="10" text-anchor="middle" fill="#333" font-family="Liberation Serif" font-weight="bold">600</text>
<path d="M449.3 191.0 v-2.5" stroke="#888" stroke-width="0.8"/>
<text x="486.5" y="204.4" font-size="10" text-anchor="middle" fill="#333" font-family="Liberation Serif" font-weight="bold">700</text>
<path d="M483.3 191.0 v-2.5" stroke="#888" stroke-width="0.8"/>
<text x="520.0" y="204.4" font-size="10" text-anchor="middle" fill="#333" font-family="Liberation Serif" font-weight="bold">800</text>
<path d="M517.6 191.0 v-2.5" stroke="#888" stroke-width="0.8"/>
<text x="555.7" y="204.4" font-size="10" text-anchor="middle" fill="#333" font-family="Liberation Serif" font-weight="bold">900</text>
<path d="M551.5 191.0 v-2.5" stroke="#888" stroke-width="0.8"/>
<text x="585.8" y="204.4" font-size="10" text-anchor="middle" fill="#333" font-family="Liberation Serif" font-weight="bold">1000</text>
<text transform="translate(316.2,160.4) rotate(-90)" font-size="14.6" fill="#2a2a2a" textLength="81.8" lengthAdjust="spacingAndGlyphs" font-family="Liberation Serif" font-weight="bold">Absorption</text>
<text transform="translate(316.2,78.0) rotate(-90)" font-size="14.6" fill="#2a2a2a" textLength="31.4" lengthAdjust="spacingAndGlyphs" font-family="Liberation Serif" font-weight="bold">(a.u.)</text>
<text x="410.8" y="226.2" font-size="14.6" fill="#2a2a2a" textLength="109.2" lengthAdjust="spacingAndGlyphs" font-family="Liberation Serif" font-weight="bold">Wavelength(nm)</text>
<text x="459.2" y="246.5" font-size="14.5" fill="#2a2a2a" textLength="18.1" lengthAdjust="spacingAndGlyphs" font-family="Liberation Serif" font-weight="bold">(b)</text>
<path d="M366.3 103.1 H382.8" stroke="#4ff0f4" stroke-width="1.6"/>
<text x="390.3" y="105.9" font-size="10.5" fill="#222" font-family="Liberation Serif" font-weight="bold" font-style="italic" textLength="5.6" lengthAdjust="spacingAndGlyphs">&#952;</text>
<path d="M399.8 101.8 h6.8 M399.8 103.9 h6.8" stroke="#7a7a7a" stroke-width="0.9"/>
<text x="410.6" y="105.9" font-size="10.6" fill="#222" textLength="12.1" lengthAdjust="spacingAndGlyphs" font-family="Liberation Serif" font-weight="bold">60</text>
<circle cx="424.7" cy="97.6" r="1.05" stroke="#666" stroke-width="0.6" fill="none"/>
<path d="M366.3 115.4 H382.8" stroke="#2e2e82" stroke-width="1.6"/>
<text x="389.4" y="118.9" font-size="10.5" fill="#222" font-family="Liberation Serif" font-weight="bold" font-style="italic" textLength="5.6" lengthAdjust="spacingAndGlyphs">&#952;</text>
<path d="M398.9 114.8 h6.8 M398.9 116.9 h6.8" stroke="#7a7a7a" stroke-width="0.9"/>
<text x="409.8" y="118.9" font-size="10.6" fill="#222" textLength="11.2" lengthAdjust="spacingAndGlyphs" font-family="Liberation Serif" font-weight="bold">45</text>
<circle cx="423.0" cy="110.6" r="1.05" stroke="#666" stroke-width="0.6" fill="none"/>
<path d="M366.3 129.0 H382.8" stroke="#b43cf2" stroke-width="1.6"/>
<text x="389.6" y="132.3" font-size="10.5" fill="#222" font-family="Liberation Serif" font-weight="bold" font-style="italic" textLength="5.6" lengthAdjust="spacingAndGlyphs">&#952;</text>
<path d="M399.1 128.2 h6.8 M399.1 130.3 h6.8" stroke="#7a7a7a" stroke-width="0.9"/>
<text x="410.1" y="132.3" font-size="10.6" fill="#222" textLength="11.8" lengthAdjust="spacingAndGlyphs" font-family="Liberation Serif" font-weight="bold">30</text>
<circle cx="423.9" cy="124.0" r="1.05" stroke="#666" stroke-width="0.6" fill="none"/>
<path d="M366.3 142.4 H382.8" stroke="#58f02a" stroke-width="1.6"/>
<text x="389.2" y="144.6" font-size="10.5" fill="#222" font-family="Liberation Serif" font-weight="bold" font-style="italic" textLength="5.6" lengthAdjust="spacingAndGlyphs">&#952;</text>
<path d="M398.7 140.5 h6.8 M398.7 142.6 h6.8" stroke="#7a7a7a" stroke-width="0.9"/>
<text x="409.5" y="144.6" font-size="10.6" fill="#222" textLength="11.8" lengthAdjust="spacingAndGlyphs" font-family="Liberation Serif" font-weight="bold">20</text>
<circle cx="423.3" cy="136.3" r="1.05" stroke="#666" stroke-width="0.6" fill="none"/>
<path d="M366.3 155.1 H382.8" stroke="#ff5f7c" stroke-width="1.6"/>
<text x="388.8" y="157.0" font-size="10.5" fill="#222" font-family="Liberation Serif" font-weight="bold" font-style="italic" textLength="5.6" lengthAdjust="spacingAndGlyphs">&#952;</text>
<path d="M398.3 152.9 h6.8 M398.3 155.0 h6.8" stroke="#7a7a7a" stroke-width="0.9"/>
<text x="409.2" y="157.0" font-size="10.6" fill="#222" textLength="11.3" lengthAdjust="spacingAndGlyphs" font-family="Liberation Serif" font-weight="bold">15</text>
<circle cx="422.5" cy="148.7" r="1.05" stroke="#666" stroke-width="0.6" fill="none"/>
<path d="M366.3 166.9 H382.8" stroke="#fff43c" stroke-width="1.6"/>
<text x="388.2" y="169.6" font-size="10.5" fill="#222" font-family="Liberation Serif" font-weight="bold" font-style="italic" textLength="5.6" lengthAdjust="spacingAndGlyphs">&#952;</text>
<path d="M397.7 165.5 h6.8 M397.7 167.6 h6.8" stroke="#7a7a7a" stroke-width="0.9"/>
<text x="408.6" y="169.6" font-size="10.6" fill="#222" textLength="5.4" lengthAdjust="spacingAndGlyphs" font-family="Liberation Serif" font-weight="bold">0</text>
<circle cx="416.0" cy="161.3" r="1.05" stroke="#666" stroke-width="0.6" fill="none"/>
</svg>
</body></html>
